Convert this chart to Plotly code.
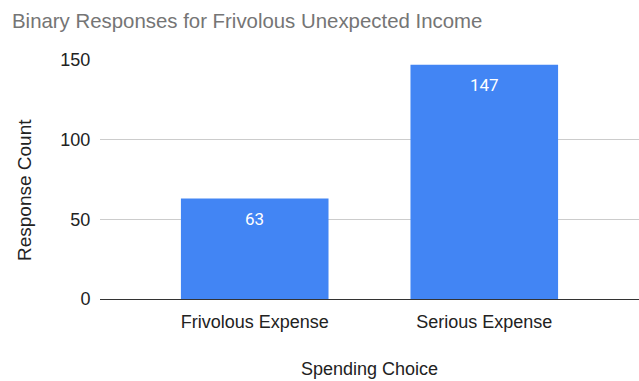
import plotly.graph_objects as go

categories = ["Frivolous Expense", "Serious Expense"]
counts = [63, 147]
y_ticks = [0, 50, 100, 150]

BAR_COLOR = "#4285F4"
FONT = "Liberation Sans, Arial, sans-serif"
TEXT = "#222222"

fig = go.Figure()
fig.add_trace(go.Bar(
    x=[0, 1],
    y=counts,
    marker=dict(color=BAR_COLOR, line=dict(width=0)),
    hoverinfo="skip",
))

# value labels just inside the top of each bar
for i, v in enumerate(counts):
    fig.add_annotation(
        x=i, y=v, text=str(v), showarrow=False,
        yanchor="top", yshift=-8,
        font=dict(family="Roboto, " + FONT, size=17, color="#ffffff"),
    )

# vertical axis title
fig.add_annotation(
    text="Response Count", textangle=-90, showarrow=False,
    xref="paper", yref="paper",
    x=(24 - 100) / 539, xanchor="center",
    y=(299 - 190) / 239, yanchor="middle",
    font=dict(family=FONT, size=19, color=TEXT),
)

fig.update_layout(
    width=639, height=381,
    margin=dict(l=100, r=0, t=60, b=82),
    paper_bgcolor="white", plot_bgcolor="white",
    bargap=0.357,
    showlegend=False,
    font=dict(family=FONT, color=TEXT),
    title=dict(
        text="Binary Responses for Frivolous Unexpected Income",
        x=12 / 639, xanchor="left", xref="container",
        y=1 - 21 / 381, yanchor="middle", yref="container",
        font=dict(family=FONT, size=20.4, color="#757575"),
    ),
    xaxis=dict(
        range=[-0.674, 1.674],
        tickvals=[0, 1], ticktext=categories,
        tickfont=dict(size=18, color=TEXT),
        ticks="outside", ticklen=6, tickcolor="rgba(0,0,0,0)",
        showgrid=False, zeroline=False, showline=False,
        title=dict(text="Spending Choice", font=dict(size=18, color=TEXT), standoff=31),
    ),
    yaxis=dict(
        range=[0, 150],
        tickvals=y_ticks,
        tickfont=dict(size=18, color=TEXT),
        ticks="outside", ticklen=5, tickcolor="rgba(0,0,0,0)",
        showgrid=True, gridcolor="#cccccc", gridwidth=1,
        zeroline=True, zerolinecolor="#333333", zerolinewidth=1,
        showline=False,
    ),
)

fig.write_html("out.html")
